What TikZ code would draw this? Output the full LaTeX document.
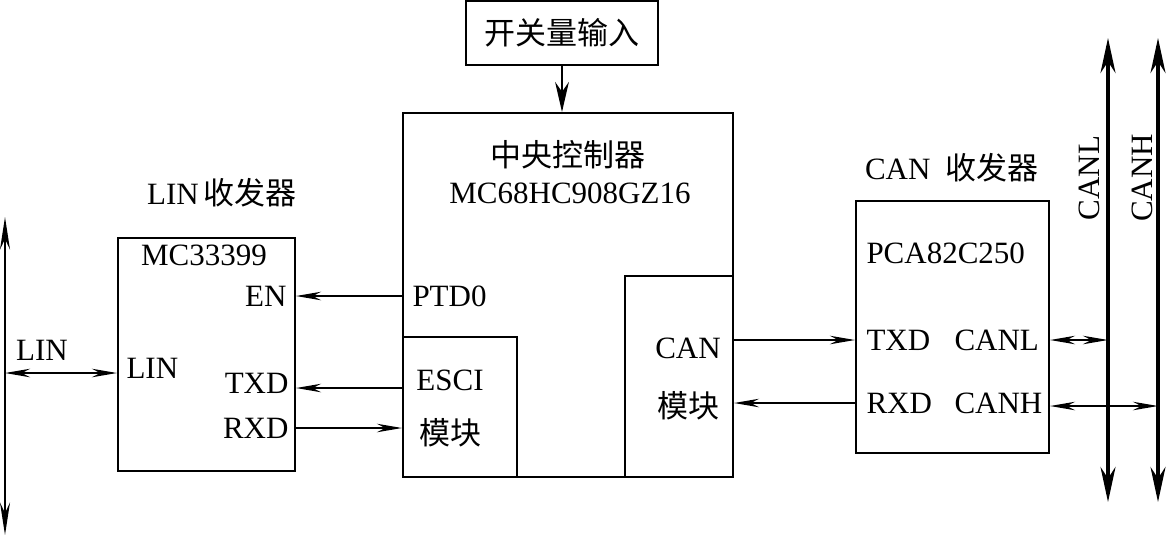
\documentclass[tikz,border=0pt]{standalone}
\usepackage{fontspec}
\setmainfont{Liberation Serif}
\newfontfamily\cjk{Noto Sans CJK SC}
\usetikzlibrary{arrows.meta}
\tikzset{
  blk/.style={draw, rectangle, line width=0.8pt, inner sep=0pt},
  bus/.style={line width=1.4pt, {Stealth[length=14pt,width=6pt]}-{Stealth[length=14pt,width=6pt]}},
  sig/.style={line width=0.7pt}
}
\begin{document}
\begin{tikzpicture}[x=0.4pt, y=-0.4pt, >={Stealth[length=10pt,width=3.4pt]},
  font=\fontsize{12.4}{14}\selectfont]
\useasboundingbox (0,0) rectangle (1167,536);
% blocks
\node(sw)[blk, minimum width=76.8pt, minimum height=25.6pt] at (562,33){\cjk 开关量输入};
\node(mcu)[blk, minimum width=132pt, minimum height=145.6pt] at (568,295){};
\node(esci)[blk, minimum width=45.6pt, minimum height=56pt] at (460,407){};
\node(canmod)[blk, minimum width=43.2pt, minimum height=80.4pt] at (679,376.5){};
\node(lin)[blk, minimum width=70.8pt, minimum height=93.2pt] at (206.5,354.5){};
\node(cantr)[blk, minimum width=77.2pt, minimum height=100.8pt] at (952.5,327){};
% texts
\node(mcutitle) at (568,155){\cjk 中央控制器};
\node(mcuname) at (570,193){MC68HC908GZ16};
\node(ptd0)[anchor=west, inner sep=0pt] at (412,296){PTD0};
\node(escitxt) at (450,380){ESCI};
\node(escimk) at (450,433){\cjk 模块};
\node(cantxt) at (688,348){CAN};
\node(canmk) at (688,406){\cjk 模块};
\node(lintitle) at (222,193){LIN\,{\cjk 收发器}};
\node(linname) at (204,255){MC33399};
\node(en)[anchor=east, inner sep=0pt] at (287,296){EN};
\node(ltxd)[anchor=east, inner sep=0pt] at (289,383){TXD};
\node(lrxd)[anchor=east, inner sep=0pt] at (289,428){RXD};
\node(linpin)[anchor=west, inner sep=0pt] at (126,368){LIN};
\node(buslbl) at (42,350){LIN};
\node(cantitle) at (952,168){CAN\ \ {\cjk 收发器}};
\node(pca)[anchor=west, inner sep=0pt] at (866,253){PCA82C250};
\node(ctxd)[anchor=west, inner sep=0pt] at (866,340){TXD};
\node(crxd)[anchor=west, inner sep=0pt] at (866,403){RXD};
\node(canl)[anchor=west, inner sep=0pt] at (954,340){CANL};
\node(canh)[anchor=west, inner sep=0pt] at (954,403){CANH};
\node(canllbl)[rotate=90] at (1089,178){CANL};
\node(canhlbl)[rotate=90] at (1142,178){CANH};
% buses
\coordinate(linT) at (5,217);
\coordinate(linB) at (5,535);
\coordinate(canlT) at (1108,38);
\coordinate(canlB) at (1108,502);
\coordinate(canhT) at (1158,38);
\coordinate(canhB) at (1158,502);
\draw[line width=1pt, {Stealth[length=13pt,width=4pt]}-{Stealth[length=13pt,width=4pt]}](linT)--(linB);
\draw[bus](canlT)--(canlB);
\draw[bus](canhT)--(canhB);
% signals
\draw[line width=1pt, -{Stealth[length=12pt,width=5.5pt]}](sw.south)--(sw.south |- mcu.north);
\draw[sig, ->](mcu.west |- ptd0)--(lin.east |- ptd0);
\draw[sig, ->](esci.west |- 0,388)--(lin.east |- 0,388);
\draw[sig, ->](lin.east |- lrxd)--(esci.west |- lrxd);
\draw[sig, <->](linT |- 0,373)--(lin.west |- 0,373);
\draw[sig, ->](canmod.east |- ctxd)--(cantr.west |- ctxd);
\draw[sig, ->](cantr.west |- crxd)--(canmod.east |- crxd);
\draw[sig, <->](cantr.east |- canl)--(canlT |- canl);
\draw[sig, <->](cantr.east |- 0,406)--(canhT |- 0,406);
\end{tikzpicture}
\end{document}
